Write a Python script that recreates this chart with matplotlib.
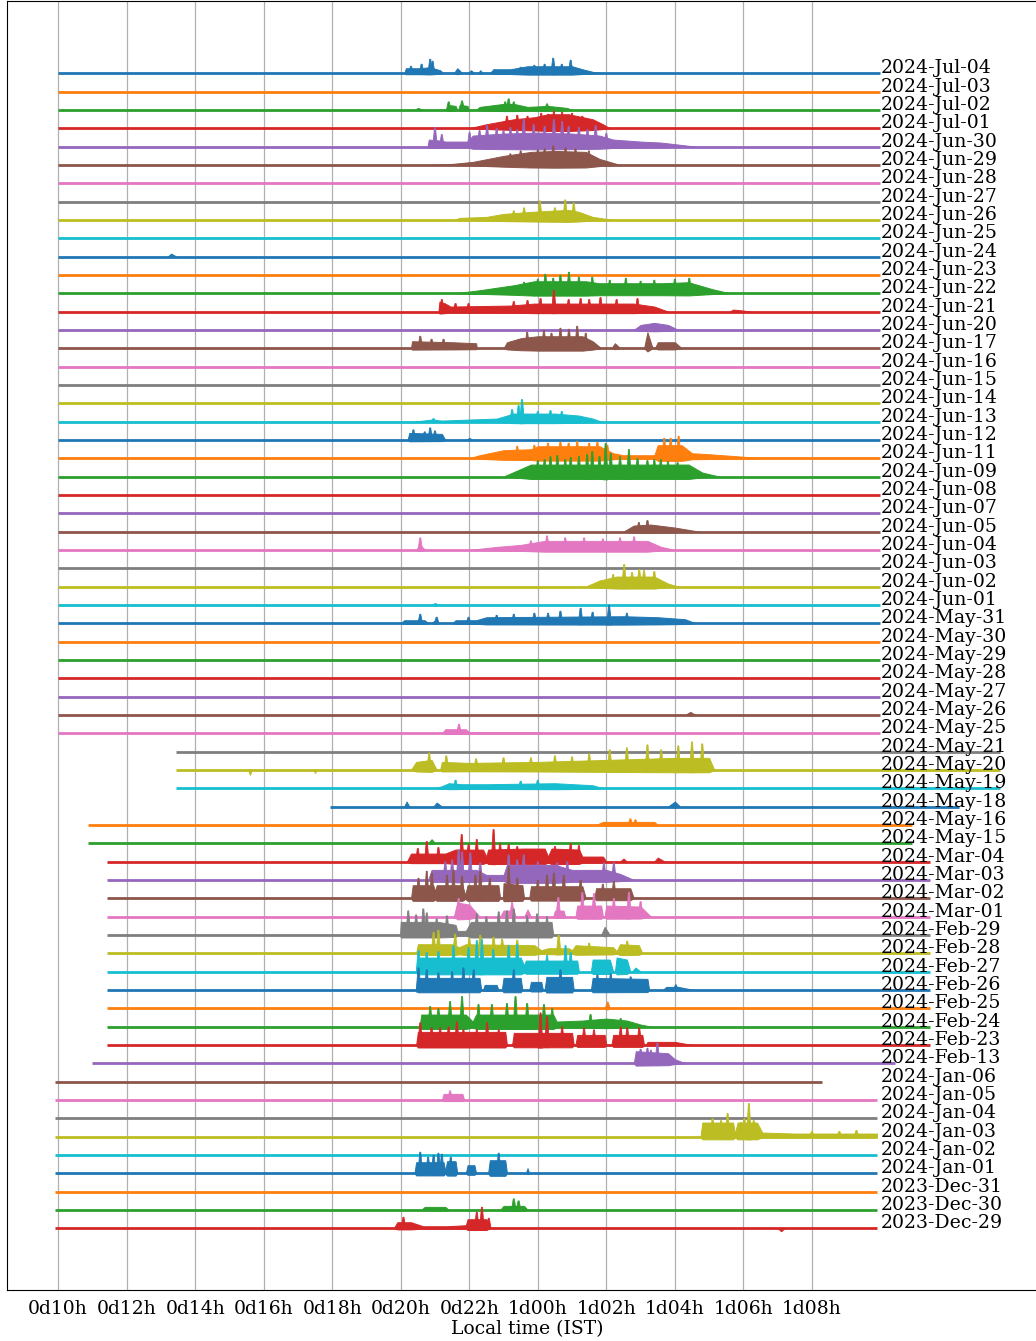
import numpy as np
import matplotlib
matplotlib.use("Agg")
import matplotlib.pyplot as plt

# one trace per day, top to bottom
dates = ["2024-Jul-04", "2024-Jul-03", "2024-Jul-02", "2024-Jul-01", "2024-Jun-30",
         "2024-Jun-29", "2024-Jun-28", "2024-Jun-27", "2024-Jun-26", "2024-Jun-25",
         "2024-Jun-24", "2024-Jun-23", "2024-Jun-22", "2024-Jun-21", "2024-Jun-20",
         "2024-Jun-17", "2024-Jun-16", "2024-Jun-15", "2024-Jun-14", "2024-Jun-13",
         "2024-Jun-12", "2024-Jun-11", "2024-Jun-09", "2024-Jun-08", "2024-Jun-07",
         "2024-Jun-05", "2024-Jun-04", "2024-Jun-03", "2024-Jun-02", "2024-Jun-01",
         "2024-May-31", "2024-May-30", "2024-May-29", "2024-May-28", "2024-May-27",
         "2024-May-26", "2024-May-25", "2024-May-21", "2024-May-20", "2024-May-19",
         "2024-May-18", "2024-May-16", "2024-May-15", "2024-Mar-04", "2024-Mar-03",
         "2024-Mar-02", "2024-Mar-01", "2024-Feb-29", "2024-Feb-28", "2024-Feb-27",
         "2024-Feb-26", "2024-Feb-25", "2024-Feb-24", "2024-Feb-23", "2024-Feb-13",
         "2024-Jan-06", "2024-Jan-05", "2024-Jan-04", "2024-Jan-03", "2024-Jan-02",
         "2024-Jan-01", "2023-Dec-31", "2023-Dec-30", "2023-Dec-29"]

# recording start / end (hours after local midnight of the day)
t_start = [10.0] * 37 + [13.44] * 3 + [17.93] + [10.87] * 2 + [11.43] * 11 + [10.99] + [9.9] * 9
t_end = [34.0] * 37 + [37.5] * 3 + [36.3] + [34.93] * 2 + [35.45] * 11 + [34.43] + [32.3] + [33.9] * 8

# burst envelopes: (hour, amplitude) knots, amplitude in counts
bursts = {
    "2024-Jul-04": [[(20.1, 0), (20.15, 5), (20.55, 5), (20.85, 6), (21.15, 3), (21.25, 0)],
                    [(21.55, 0), (21.65, 5), (21.8, 0)], [(21.95, 0), (22.05, 3), (22.15, 0)],
                    [(22.25, 0), (22.32, 3), (22.4, 0)],
                    [(22.6, 0), (22.7, 4), (23.2, 4), (23.7, 7), (24.4, 7), (25.0, 7), (25.3, 4), (25.65, 1), (26.0, 0)]],
    "2024-Jul-02": [[(20.4, 0), (20.5, 2), (20.66, 0)], [(21.33, 0), (21.38, 5), (21.6, 4), (21.65, 0)],
                    [(21.68, 0), (21.72, 5), (21.95, 4), (21.98, 0)],
                    [(22.2, 0), (22.3, 3), (23.0, 6), (23.3, 6), (23.7, 3), (24.3, 4), (24.85, 2), (25.0, 0)]],
    "2024-Jul-01": [[(22.0, 0), (22.5, 4), (23.3, 9), (23.9, 11), (24.3, 14), (24.9, 14), (25.6, 9), (25.9, 4), (26.1, 0)]],
    "2024-Jun-30": [[(20.78, 0), (20.82, 7), (21.15, 6), (21.3, 5), (21.95, 5), (22.1, 11), (23.0, 13), (24.0, 14),
                     (25.0, 13), (25.8, 11), (26.2, 7), (27.0, 5), (27.6, 4), (28.6, 0)]],
    "2024-Jun-29": [[(20.85, 0), (21.5, 1), (22.1, 3), (23.0, 9), (23.8, 13), (24.5, 14), (25.4, 13), (25.8, 6), (26.4, 0)]],
    "2024-Jun-26": [[(21.6, 0), (21.7, 2), (22.5, 3), (23.0, 6), (23.8, 8), (24.3, 9), (24.9, 10), (25.2, 8), (25.6, 3), (26.2, 0)]],
    "2024-Jun-24": [[(13.2, 0), (13.3, 3), (13.45, 0)]],
    "2024-Jun-22": [[(21.6, 0), (22.3, 3), (23.3, 8), (23.9, 12), (25.4, 12), (25.8, 10), (27.6, 10), (28.4, 11),
                     (28.7, 8), (29.1, 4), (29.6, 0)]],
    "2024-Jun-21": [[(21.1, 0), (21.13, 10), (21.3, 8), (21.45, 5), (23.2, 6), (23.9, 8), (26.8, 8), (27.4, 5), (27.8, 0)],
                    [(29.6, 0), (29.7, 2), (30.0, 1), (30.2, 0)]],
    "2024-Jun-20": [[(26.8, 0), (27.0, 5), (27.4, 7), (27.8, 5), (28.1, 0)]],
    "2024-Jun-17": [[(20.3, 0), (20.33, 7), (21.5, 6), (22.2, 5), (22.22, 0)],
                    [(23.0, 0), (23.1, 6), (23.5, 10), (24.0, 12), (25.3, 12), (25.6, 7), (25.85, 0)],
                    [(26.15, 0), (26.25, 5), (26.4, 0)], [(27.1, 0), (27.2, 16), (27.35, 0)],
                    [(27.42, 0), (27.5, 6), (28.0, 6), (28.2, 0)]],
    "2024-Jun-13": [[(20.4, 0), (20.9, 2), (21.2, 1), (22.0, 2), (22.8, 3), (23.0, 5), (23.3, 8), (23.7, 8),
                     (24.5, 8), (25.2, 6), (25.6, 3), (25.85, 0)]],
    "2024-Jun-12": [[(20.2, 0), (20.25, 7), (21.2, 6), (21.3, 0)], [(21.9, 0), (22.0, 2), (22.1, 0)]],
    "2024-Jun-11": [[(22.0, 0), (22.3, 3), (23.0, 8), (23.8, 9), (24.0, 12), (25.8, 12), (26.2, 5), (26.5, 3),
                     (27.4, 3), (27.5, 13), (28.2, 13), (28.5, 5), (29.0, 4), (30.6, 0)]],
    "2024-Jun-09": [[(23.0, 0), (23.2, 3), (23.8, 12), (28.4, 12), (28.8, 4), (29.3, 0)]],
    "2024-Jun-05": [[(26.5, 0), (26.8, 6), (27.3, 7), (28.0, 4), (28.7, 0)]],
    "2024-Jun-04": [[(20.45, 0), (20.55, 5), (20.72, 0)],
                    [(22.0, 0), (22.8, 3), (23.5, 5), (24.2, 9), (27.2, 9), (27.6, 3), (28.0, 0)]],
    "2024-Jun-02": [[(25.4, 0), (25.8, 6), (26.3, 10), (27.4, 10), (27.8, 3), (28.1, 0)]],
    "2024-Jun-01": [[(20.9, 0), (21.0, 2), (21.1, 0)]],
    "2024-May-31": [[(20.0, 0), (20.1, 3), (20.7, 3), (20.8, 0)], [(20.9, 0), (21.0, 3), (21.1, 0)],
                    [(21.5, 0), (21.6, 3), (22.2, 3), (22.5, 6), (26.5, 7), (27.5, 6), (28.3, 4), (28.6, 0)]],
    "2024-May-26": [[(28.3, 0), (28.45, 3), (28.6, 0)]],
    "2024-May-25": [[(21.2, 0), (21.3, 4), (21.9, 4), (22.0, 1), (24.0, 1), (24.2, 0)]],
    "2024-May-20": [[(15.55, 0), (15.6, -5), (15.65, 0)], [(17.45, 0), (17.5, -3), (17.55, 0)],
                    [(20.3, 0), (20.45, 8), (20.9, 10), (21.05, 0)],
                    [(21.15, 0), (21.2, 8), (22.0, 7), (24.0, 8), (26.0, 10), (28.0, 12), (29.0, 12), (29.15, 0)]],
    "2024-May-19": [[(21.0, 0), (21.2, 2), (21.4, 5), (21.8, 4), (22.5, 4), (24.5, 5), (25.6, 3), (25.9, 0)]],
    "2024-May-18": [[(20.1, 0), (20.17, 5), (20.25, 0)], [(20.95, 0), (21.05, 4), (21.2, 0)],
                    [(27.8, 0), (28.0, 5), (28.15, 0)]],
    "2024-May-16": [[(25.7, 0), (25.9, 3), (27.4, 3), (27.5, 0)]],
    "2024-May-15": [[(20.8, 0), (20.9, 4), (21.0, 0)]],
    "2024-Mar-04": [[(20.18, 0), (20.3, 8), (21.3, 8), (21.6, 12), (22.4, 12), (22.5, 5), (22.55, 12), (23.6, 13),
                     (24.2, 13), (24.3, 5), (24.4, 13), (25.2, 12), (25.3, 5), (25.9, 5), (26.0, 0)],
                    [(26.4, 0), (26.5, 3), (26.6, 0)], [(27.4, 0), (27.5, 4), (27.7, 0)]],
    "2024-Mar-03": [[(20.8, 0), (20.9, 10), (22.2, 10), (22.5, 5), (23.0, 5), (23.1, 15), (24.5, 15), (25.0, 10),
                     (26.0, 10), (26.4, 6), (26.8, 0)]],
    "2024-Mar-02": [[(20.3, 0), (20.35, 13), (20.95, 13), (21.0, 7), (21.05, 13), (21.8, 13), (21.88, 3),
                     (21.95, 13), (22.85, 13), (22.9, 0)],
                    [(22.98, 0), (23.0, 15), (23.55, 13), (23.6, 0)], [(23.75, 0), (23.8, 12), (25.3, 12), (25.4, 0)],
                    [(25.65, 0), (25.7, 10), (26.7, 10), (26.8, 0)]],
    "2024-Mar-01": [[(21.55, 0), (21.65, 14), (22.0, 12), (22.3, 0)], [(22.9, 0), (23.0, 6), (23.3, 6), (23.35, 0)],
                    [(23.6, 0), (23.7, 7), (23.8, 0)], [(24.45, 0), (24.5, 6), (24.75, 6), (24.8, 0)],
                    [(25.1, 0), (25.15, 11), (25.85, 11), (25.9, 0)], [(25.95, 0), (26.0, 11), (27.0, 10), (27.3, 0)]],
    "2024-Feb-29": [[(19.98, 0), (20.0, 13), (21.1, 13), (21.6, 10), (21.65, 4), (21.9, 4), (22.05, 13),
                     (24.4, 13), (24.45, 0)],
                    [(25.85, 0), (25.95, 8), (26.1, 0)]],
    "2024-Feb-28": [[(20.45, 0), (20.5, 9), (21.5, 9), (21.7, 6), (21.9, 9), (23.9, 8), (24.1, 3), (24.3, 5),
                     (24.9, 5), (25.0, 3), (25.1, 8), (26.2, 6), (26.3, 2), (26.4, 9), (26.95, 8), (27.05, 0)]],
    "2024-Feb-27": [[(20.45, 0), (20.5, 14), (23.5, 14), (23.6, 6), (23.65, 11), (25.15, 11), (25.2, 0)],
                    [(25.55, 0), (25.6, 12), (26.1, 12), (26.2, 0)], [(26.25, 0), (26.3, 14), (26.6, 12), (26.7, 0)],
                    [(26.75, 0), (26.85, 4), (27.0, 0)]],
    "2024-Feb-26": [[(20.45, 0), (20.5, 12), (22.3, 12), (22.35, 0)], [(22.4, 0), (22.45, 5), (22.8, 5), (22.85, 0)],
                    [(22.95, 0), (23.0, 12), (23.5, 12), (23.55, 0)], [(23.75, 0), (23.8, 8), (24.1, 8), (24.15, 0)],
                    [(24.2, 0), (24.25, 13), (25.0, 13), (25.05, 0)], [(25.55, 0), (25.6, 12), (27.2, 11), (27.25, 0)],
                    [(27.65, 0), (27.75, 3), (28.1, 3), (28.55, 0)]],
    "2024-Feb-25": [[(25.95, 0), (26.03, 7), (26.1, 0)]],
    "2024-Feb-24": [[(20.55, 0), (20.6, 12), (21.9, 12), (22.1, 5), (22.2, 12), (24.45, 12), (24.55, 5), (25.3, 6),
                     (26.0, 8), (26.6, 6), (27.0, 2), (27.3, 0)]],
    "2024-Feb-23": [[(20.45, 0), (20.5, 13), (23.05, 13), (23.1, 0)], [(23.25, 0), (23.3, 12), (25.0, 12), (25.05, 0)],
                    [(25.1, 0), (25.15, 10), (25.95, 10), (26.0, 0)], [(26.15, 0), (26.2, 10), (27.05, 10), (27.1, 0)],
                    [(27.15, 0), (27.2, 3), (28.0, 3), (28.5, 0)]],
    "2024-Feb-13": [[(26.8, 0), (26.86, 12), (27.8, 10), (28.0, 4), (28.3, 0)]],
    "2024-Jan-05": [[(21.2, 0), (21.25, 6), (21.8, 6), (21.85, 0)]],
    "2024-Jan-03": [[(28.75, 0), (28.8, 14), (29.7, 14), (29.75, 3), (29.83, 14), (30.4, 14), (30.55, 4),
                     (31.5, 3), (33.9, 3)]],
    "2024-Jan-01": [[(20.4, 0), (20.45, 11), (21.25, 11), (21.3, 2), (21.35, 12), (21.6, 12), (21.65, 0)],
                    [(21.9, 0), (21.95, 8), (22.15, 8), (22.2, 0)], [(22.55, 0), (22.6, 13), (23.05, 13), (23.1, 0)],
                    [(23.65, 0), (23.7, 5), (23.75, 0)]],
    "2023-Dec-30": [[(20.6, 0), (20.7, 3), (21.3, 3), (21.4, 0)], [(22.9, 0), (23.0, 4), (23.6, 4), (23.7, 0)]],
    "2023-Dec-29": [[(19.8, 0), (19.9, 6), (20.3, 6), (20.65, 2), (21.35, 2), (21.9, 3), (21.95, 9), (22.5, 9), (22.6, 0)],
                    [(31.0, 0), (31.1, -3), (31.2, 0)]],
}

# isolated peaks: (hour, amplitude)
spikes = {
    "2024-Jul-04": [(20.3, 7), (20.61, 9), (20.86, 14), (20.93, 12), (23.5, 6), (23.9, 8), (24.2, 9), (24.45, 15),
                    (24.7, 9), (24.96, 13)],
    "2024-Jul-02": [(21.4, 8), (21.79, 9), (23.05, 8), (23.15, 11), (23.3, 8), (24.27, 6)],
    "2024-Jul-01": [(23.1, 12), (23.4, 13), (23.7, 12), (24.1, 15), (24.3, 14), (24.47, 17), (24.71, 16),
                    (25.0, 15), (25.3, 12)],
    "2024-Jun-30": [(21.0, 19), (21.2, 12), (22.01, 14), (22.3, 16), (22.52, 21), (22.8, 18), (23.0, 16),
                    (23.2, 19), (23.4, 17), (23.59, 27), (23.88, 22), (24.2, 20), (24.47, 27), (24.71, 25),
                    (24.9, 20), (25.2, 19), (25.45, 17), (25.69, 21), (26.0, 13)],
    "2024-Jun-29": [(23.2, 11), (23.5, 14), (24.0, 15), (24.2, 16), (24.45, 19), (24.81, 17), (25.1, 16), (25.49, 14)],
    "2024-Jun-26": [(23.3, 9), (23.6, 12), (24.06, 19), (24.5, 12), (24.8, 20), (25.05, 17)],
    "2024-Jun-22": [(23.6, 11), (24.0, 14), (24.22, 19), (24.45, 15), (24.66, 18), (24.91, 21), (25.2, 16),
                    (25.59, 16), (26.1, 13), (26.57, 15), (27.0, 12), (27.4, 13), (28.0, 14), (28.42, 15)],
    "2024-Jun-21": [(21.2, 12), (21.6, 8), (21.98, 8), (23.3, 10), (23.7, 11), (24.08, 13), (24.47, 21), (24.9, 12),
                    (25.25, 13), (25.5, 12), (25.83, 14), (26.3, 12), (26.91, 13)],
    "2024-Jun-17": [(20.57, 12), (20.9, 9), (21.25, 9), (23.69, 16), (24.18, 18), (24.4, 15), (24.66, 20),
                    (24.91, 19), (25.15, 22), (25.4, 15)],
    "2024-Jun-13": [(20.96, 3), (23.25, 12), (23.44, 16), (23.54, 22), (24.0, 10), (24.37, 11), (24.7, 10)],
    "2024-Jun-12": [(20.37, 10), (20.7, 8), (20.86, 12), (21.0, 9)],
    "2024-Jun-11": [(23.4, 12), (23.9, 13), (24.3, 15), (24.66, 16), (24.9, 15), (25.15, 17), (25.5, 15),
                    (25.74, 16), (26.03, 13), (27.69, 20), (27.88, 20), (28.11, 22)],
    "2024-Jun-09": [(24.0, 16), (24.2, 17), (24.37, 20), (24.57, 21), (24.8, 17), (24.96, 19), (25.2, 20),
                    (25.44, 22), (25.59, 25), (25.8, 20), (25.98, 33), (26.13, 23), (26.4, 20), (26.66, 27),
                    (26.91, 18), (27.2, 16), (27.4, 17), (27.59, 17), (27.8, 15), (28.08, 14)],
    "2024-Jun-05": [(26.95, 9), (27.2, 11)],
    "2024-Jun-04": [(20.57, 12), (23.8, 9), (24.27, 14), (24.8, 12), (25.35, 12), (25.9, 11), (26.4, 12), (26.81, 13)],
    "2024-Jun-02": [(26.2, 12), (26.52, 22), (26.75, 14), (26.96, 17), (27.1, 16), (27.4, 15)],
    "2024-May-31": [(20.57, 9), (21.05, 6), (21.98, 6), (22.8, 8), (23.3, 9), (23.9, 10), (24.3, 10), (24.66, 12),
                    (25.25, 15), (25.6, 11), (26.08, 18), (26.6, 10)],
    "2024-May-25": [(21.7, 9)],
    "2024-May-20": [(20.83, 17), (21.33, 14), (22.2, 11), (23.0, 12), (23.8, 12), (24.5, 14), (25.0, 13),
                    (25.5, 16), (26.1, 20), (26.6, 22), (27.2, 25), (27.6, 20), (28.1, 24), (28.5, 28), (28.8, 26)],
    "2024-May-19": [(21.6, 8), (23.5, 7), (24.0, 8)],
    "2024-May-16": [(26.7, 6), (26.85, 5)],
    "2024-Mar-04": [(20.5, 13), (20.76, 20), (21.1, 14), (21.78, 27), (21.98, 17), (22.22, 22), (22.71, 32),
                    (22.9, 18), (23.15, 17), (23.4, 15), (24.5, 15), (24.96, 18), (25.2, 16)],
    "2024-Mar-03": [(21.3, 18), (21.5, 20), (21.69, 30), (21.79, 28), (22.03, 27), (22.32, 17), (23.15, 25),
                    (23.4, 20), (23.59, 25), (24.0, 18), (24.57, 17), (24.86, 18), (25.93, 17), (26.22, 17)],
    "2024-Mar-02": [(20.52, 20), (20.76, 27), (20.91, 25), (21.35, 23), (21.54, 28), (21.79, 22), (22.18, 23),
                    (22.32, 27), (22.6, 20), (23.15, 32), (23.4, 20), (24.0, 18), (24.27, 23), (24.47, 25),
                    (24.76, 23), (25.25, 18), (25.9, 14), (26.22, 17)],
    "2024-Mar-01": [(21.69, 18), (23.25, 14), (24.6, 19), (25.3, 24), (25.64, 23), (26.22, 18), (26.66, 24), (27.0, 15)],
    "2024-Feb-29": [(20.22, 24), (20.45, 20), (20.66, 26), (20.76, 22), (21.05, 16), (21.35, 19), (22.22, 21),
                    (22.5, 18), (22.86, 23), (23.1, 24), (23.3, 26), (23.69, 19), (23.98, 21), (24.27, 18)],
    "2024-Feb-28": [(20.96, 21), (21.1, 23), (21.59, 19), (22.0, 15), (22.32, 18), (22.71, 16), (22.96, 14),
                    (23.4, 13), (24.61, 18), (25.5, 10), (26.61, 12)],
    "2024-Feb-27": [(20.52, 21), (20.76, 19), (21.1, 20), (21.54, 26), (21.98, 24), (22.22, 31), (22.37, 32),
                    (22.7, 22), (23.15, 26), (23.4, 27), (24.27, 16), (24.81, 26), (24.96, 19)],
    "2024-Feb-26": [(20.52, 22), (20.76, 20), (21.1, 17), (21.5, 18), (21.83, 22), (22.13, 20), (23.3, 20),
                    (24.66, 20), (25.74, 15), (26.13, 16), (26.71, 13), (28.03, 5)],
    "2024-Feb-24": [(20.86, 20), (21.1, 18), (21.44, 25), (21.79, 30), (22.27, 22), (22.66, 22), (23.1, 23),
                    (23.35, 30), (23.69, 23), (24.18, 22), (24.42, 18), (25.54, 12), (26.42, 8)],
    "2024-Feb-23": [(20.57, 22), (20.9, 17), (21.15, 17), (21.4, 18), (21.64, 23), (21.83, 15), (22.22, 15),
                    (22.52, 22), (22.86, 15), (24.08, 32), (24.27, 28), (24.71, 18), (25.35, 17), (25.64, 15),
                    (26.42, 18), (26.61, 17), (26.96, 17)],
    "2024-Feb-13": [(27.0, 14), (27.2, 15), (27.3, 13), (27.49, 20)],
    "2024-Jan-05": [(21.44, 9)],
    "2024-Jan-03": [(29.1, 18), (29.35, 16), (29.54, 23), (29.93, 14), (30.03, 18), (30.16, 33), (30.3, 16),
                    (32.0, 5), (32.8, 5), (33.3, 6)],
    "2024-Jan-01": [(20.57, 21), (20.8, 16), (20.96, 18), (21.1, 20), (21.2, 19), (21.46, 16), (22.86, 20)],
    "2023-Dec-30": [(23.3, 11), (23.44, 9)],
    "2023-Dec-29": [(20.08, 11), (22.22, 16), (22.37, 21), (22.57, 10)],
}

tick_hours = [10, 12, 14, 16, 18, 20, 22, 24, 26, 28, 30, 32]
tick_labels = ["0d10h", "0d12h", "0d14h", "0d16h", "0d18h", "0d20h",
               "0d22h", "1d00h", "1d02h", "1d04h", "1d06h", "1d08h"]

gain = 18.33       # counts per trace spacing
below = 0.2        # fraction of the envelope drawn under the baseline
spike_hw = 0.07    # half width of a spike at its base, hours
label_x = 34.0

colors = plt.rcParams['axes.prop_cycle'].by_key()['color']

fig = plt.figure(figsize=(10.36, 13.41), dpi=100)
ax = fig.add_axes([7 / 1036, 51 / 1341, 1040 / 1036, 1289 / 1341])

for i, name in enumerate(dates):
    c = colors[i % len(colors)]
    y0 = -i
    ax.plot([t_start[i], t_end[i]], [y0, y0], color=c, lw=2.0, solid_capstyle='butt', zorder=2)
    for seg in bursts.get(name, []):
        t = np.array([p[0] for p in seg])
        a = np.array([p[1] for p in seg]) / gain
        ax.fill_between(t, y0 - below * a, y0 + a, color=c, lw=0.7, zorder=2)
    for (ts, amp) in spikes.get(name, []):
        a = amp / gain
        xs = [ts - spike_hw, ts - 0.015, ts + 0.015, ts + spike_hw]
        ys = [y0 - below * a * 0.5, y0 + a, y0 + a, y0 - below * a * 0.5]
        ax.fill(xs, ys, color=c, lw=0.6, zorder=2)
    ax.text(label_x, y0, name, fontsize=13.6, family='DejaVu Serif', va='baseline', ha='left', zorder=3)

ax.set_xlim(8.51, 38.86)
ax.set_ylim(-66.37, 3.94)
ax.set_xticks(tick_hours)
ax.set_xticklabels(tick_labels, fontsize=13.5, family='DejaVu Serif')
ax.tick_params(axis='x', length=0, pad=7)
ax.set_yticks([])
ax.grid(axis='x', color='#b0b0b0', lw=0.9)
ax.set_axisbelow(True)
ax.set_xlabel("Local time (IST)", fontsize=13.5, family='DejaVu Serif', labelpad=2)

fig.savefig("out.png", dpi=100)
